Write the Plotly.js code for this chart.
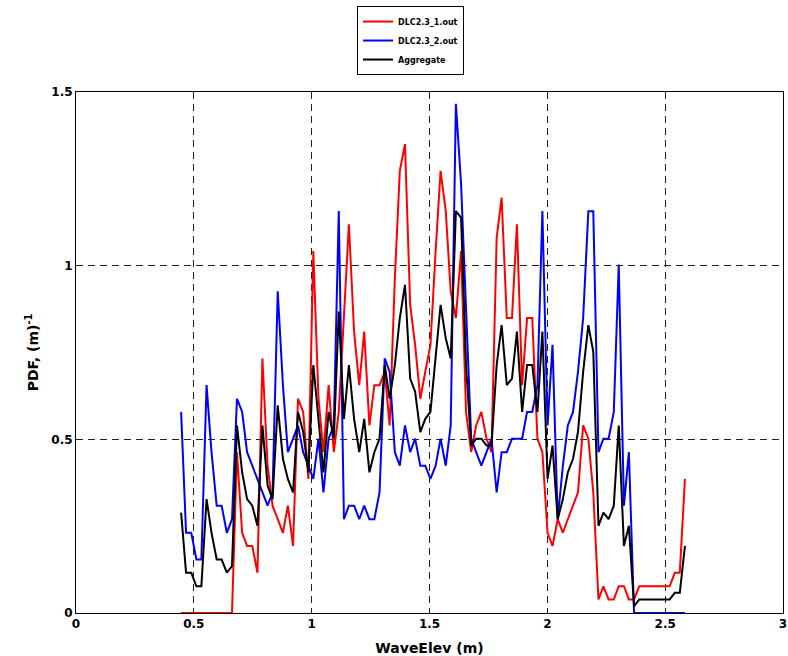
<!DOCTYPE html>
<html>
<head>
<meta charset="utf-8">
<script src="https://cdn.plot.ly/plotly-3.0.1.min.js"></script>
<style>html,body{margin:0;padding:0;background:#fff;}#chart{width:788px;height:656px;}</style>
</head>
<body>
<div id="chart"></div>
<script>
// Bin centres of wave elevation (m)
var waveElev = [0.446,0.467,0.489,0.511,0.532,0.554,0.575,0.597,0.618,0.640,
0.662,0.683,0.705,0.726,0.748,0.770,0.791,0.813,0.834,0.856,
0.878,0.899,0.921,0.942,0.964,0.986,1.007,1.029,1.050,1.072,
1.094,1.115,1.137,1.158,1.180,1.202,1.223,1.245,1.266,1.288,
1.310,1.331,1.353,1.374,1.396,1.418,1.439,1.461,1.482,1.504,
1.526,1.547,1.569,1.590,1.612,1.634,1.655,1.677,1.698,1.720,
1.742,1.763,1.785,1.806,1.828,1.850,1.871,1.893,1.914,1.936,
1.958,1.979,2.001,2.022,2.044,2.066,2.087,2.109,2.130,2.152,
2.174,2.195,2.217,2.238,2.260,2.282,2.303,2.325,2.346,2.368,
2.390,2.411,2.433,2.454,2.476,2.498,2.519,2.541,2.562,2.584];

// PDF values, DLC2.3_1.out
var pdfRun1 = [0,0,0,0,0,0,0,0,0,0,
0,0.463,0.231,0.193,0.193,0.116,0.733,0.424,0.309,0.270,
0.231,0.309,0.193,0.617,0.579,0.386,1.042,0.617,0.463,0.656,
0.463,0.579,0.849,1.119,0.810,0.656,0.810,0.540,0.656,0.656,
0.694,0.540,0.965,1.273,1.350,0.887,0.772,0.617,0.694,0.772,
1.042,1.273,1.157,0.926,0.849,1.042,0.579,0.463,0.540,0.579,
0.502,0.463,1.080,1.196,0.849,0.849,1.119,0.656,0.849,0.849,
0.502,0.463,0.231,0.193,0.270,0.231,0.270,0.309,0.347,0.540,
0.502,0.347,0.039,0.077,0.039,0.039,0.077,0.077,0.039,0.039,
0.077,0.077,0.077,0.077,0.077,0.077,0.077,0.116,0.116,0.386];

// PDF values, DLC2.3_2.out
var pdfRun2 = [0.579,0.231,0.231,0.154,0.154,0.656,0.463,0.309,0.309,0.231,
0.270,0.617,0.579,0.463,0.424,0.386,0.347,0.309,0.347,0.926,
0.656,0.463,0.502,0.540,0.463,0.424,0.386,0.502,0.347,0.502,
0.540,1.157,0.270,0.309,0.309,0.270,0.309,0.270,0.270,0.347,
0.733,0.694,0.463,0.424,0.540,0.463,0.502,0.424,0.424,0.386,
0.424,0.502,0.424,0.540,1.466,1.235,0.849,0.502,0.463,0.424,
0.463,0.502,0.347,0.463,0.463,0.502,0.502,0.502,0.579,0.579,
0.656,1.157,0.540,0.772,0.270,0.424,0.540,0.579,0.694,0.849,
1.157,1.157,0.463,0.502,0.502,0.579,1.003,0.309,0.463,0,
0,0,0,0,0,0,0,0,0,0];

// PDF values, Aggregate
var pdfAggregate = [0.289,0.116,0.116,0.077,0.077,0.328,0.231,0.154,0.154,0.116,
0.135,0.540,0.405,0.328,0.309,0.251,0.540,0.367,0.328,0.598,
0.444,0.386,0.347,0.579,0.521,0.405,0.714,0.559,0.405,0.579,
0.502,0.868,0.559,0.714,0.559,0.463,0.559,0.405,0.463,0.502,
0.714,0.617,0.714,0.849,0.945,0.675,0.637,0.521,0.559,0.579,
0.733,0.887,0.791,0.733,1.157,1.138,0.714,0.482,0.502,0.502,
0.482,0.482,0.714,0.829,0.656,0.675,0.810,0.579,0.714,0.714,
0.579,0.810,0.386,0.482,0.270,0.328,0.405,0.444,0.521,0.694,
0.829,0.752,0.251,0.289,0.270,0.309,0.540,0.193,0.251,0.019,
0.039,0.039,0.039,0.039,0.039,0.039,0.039,0.058,0.058,0.193];

var seriesNames = ['DLC2.3_1.out','DLC2.3_2.out','Aggregate'];
var seriesColors = ['#ff0000','#0000ff','#000000'];
var xTicks = [0,0.5,1,1.5,2,2.5,3];
var yTicks = [0,0.5,1,1.5];

var ys = [pdfRun1, pdfRun2, pdfAggregate];
var traces = ys.map(function(y, k){
  return {x: waveElev, y: y, type:'scatter', mode:'lines', name: seriesNames[k],
          line:{color: seriesColors[k], width:2}};
});

var fontFam = 'DejaVu Sans, Verdana, sans-serif';
var layout = {
  width:788, height:656,
  paper_bgcolor:'#fff', plot_bgcolor:'#fff',
  margin:{l:76, r:5, t:92, b:43, autoexpand:false},
  showlegend:true,
  legend:{x:0.3975, y:1.165, xanchor:'left', yanchor:'top',
          bordercolor:'#000', borderwidth:1, bgcolor:'#fff',
          font:{family:fontFam, size:8, color:'#000', weight:'bold'}, tracegroupgap:0},
  xaxis:{range:[0,3], tickvals:xTicks, ticktext:xTicks.map(String), showgrid:true, gridcolor:'#222', griddash:'7px,5px', gridwidth:1,
         zeroline:false, showline:true, mirror:true, linecolor:'#000', linewidth:1, ticks:'', automargin:false,
         tickfont:{family:fontFam, size:12, color:'#000', weight:'bold'},
         title:{text:'WaveElev (m)', font:{family:fontFam, size:14, color:'#000', weight:'bold'}}},
  yaxis:{range:[0,1.5], tickvals:yTicks, ticktext:yTicks.map(String), showgrid:true, gridcolor:'#222', griddash:'7px,5px', gridwidth:1,
         zeroline:false, showline:true, mirror:true, linecolor:'#000', linewidth:1, ticks:'', automargin:false,
         tickfont:{family:fontFam, size:12, color:'#000', weight:'bold'},
         title:{text:'PDF, (m)<sup>-1</sup>', font:{family:fontFam, size:14, color:'#000', weight:'bold'}}}
};
Plotly.newPlot('chart', traces, layout, {displayModeBar:false, staticPlot:true});
</script>
</body>
</html>
